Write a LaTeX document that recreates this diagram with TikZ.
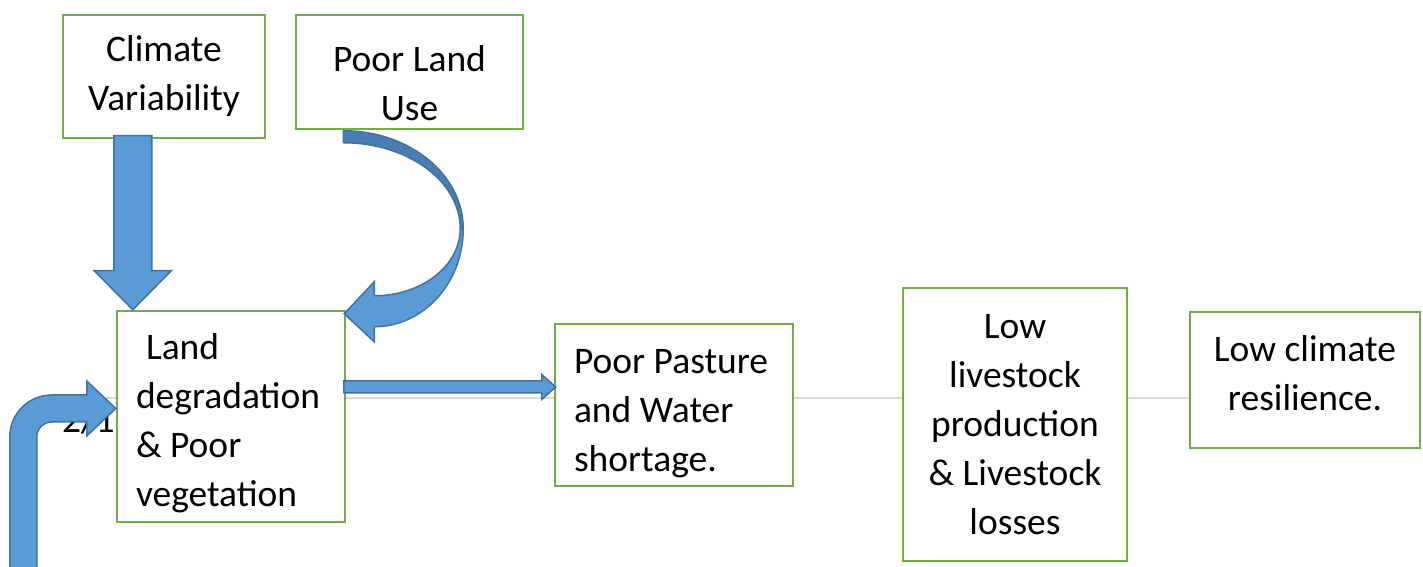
\documentclass[tikz,border=0pt]{standalone}
\usepackage{fontspec}
\setmainfont{Carlito}
\usetikzlibrary{calc}

\definecolor{boxgreen}{HTML}{70AD47}
\definecolor{arrowblue}{HTML}{5B9BD5}
\definecolor{arrowdark}{HTML}{4A7EB3}
\definecolor{arrowedge}{HTML}{41719C}
\definecolor{linkgray}{HTML}{D9D9D9}

\begin{document}
\begin{tikzpicture}[
                    x=1pt, y=1pt,
                    box/.style={rectangle, draw=boxgreen, line width=2.5pt, fill=white, align=flush center, inner sep=0pt, font=\fontsize{37.5}{49}\selectfont},
                    leftbox/.style={box, align=flush left, inner xsep=19pt},
                    dropby/.style={execute at begin node={\rule{0pt}{#1}}},
                    raiseby/.style={execute at end node={\rule[-#1]{0pt}{0pt}}},
                    blockarrow/.style={fill=arrowblue, draw=arrowedge, line width=1.5pt, line join=miter},
                    link/.style={draw=linkgray, line width=1.8pt}
                ]
                    \useasboundingbox (0,0) rectangle (1423,567);

                    \node[box, text width=202pt, minimum height=123pt] (clim) at (164,490.5) {Climate\\Variability};
                    \node[box, dropby=48pt, text width=227pt, minimum height=114pt] (pland) at (409.5,495) {Poor Land\\Use};
                    \node[leftbox, dropby=40pt, text width=190pt, minimum height=211pt] (land) at (231,150.5) {\hspace*{10pt}Land\\degradation\\\& Poor\\vegetation};
                    \node[leftbox, dropby=42pt, text width=200pt, minimum height=162pt] (pasture) at (674,162) {Poor Pasture\\and Water\\shortage.};
                    \node[box, text width=224pt, minimum height=273pt] (lowprod) at (1015,142.5) {Low\\livestock\\production\\\& Livestock\\losses};
                    \node[box, raiseby=14pt, text width=230pt, minimum height=136pt] (resil) at (1305,187) {Low climate\\resilience.};

                    \node[font=\fontsize{37.5}{49}\selectfont, anchor=base west, inner sep=0pt] (hidden) at (62,134) {2/1};

                    % thin grey connectors
                    \coordinate (lane) at (0,169);
                    \coordinate (lstart) at (45,169);
                    \draw[link] (lstart) -- (land.west |- lane);
                    \draw[link] (land.east |- lane) -- (pasture.west |- lane);
                    \draw[link] (pasture.east |- lane) -- (lowprod.west |- lane);
                    \draw[link] (lowprod.east |- lane) -- (resil.west |- lane);

                    % block arrows
                    \coordinate (dtip) at ($(land.north west)+(17,0)$);
                    \draw[blockarrow, shift={(dtip)}] (-19,174) -- (19,174) -- (19,39) -- (38.5,39) -- (0,0) -- (-38.5,39) -- (-19,39) -- cycle;

                    \coordinate (htip) at ($(pasture.west)+(2,18)$);
                    \draw[blockarrow, shift={(htip)}] (-212,6) -- (-14,6) -- (-14,12.5) -- (0,0) -- (-14,-12.5) -- (-14,-6) -- (-212,-6) -- cycle;

                    \coordinate (ctip) at ($(land.north east)+(-2,-4)$);
                    \draw[blockarrow, fill=arrowdark, shift={(ctip)}] (-1,183) arc[start angle=90, end angle=0, x radius=120, y radius=98] -- (116,85) arc[start angle=0, end angle=90, x radius=117, y radius=86] -- cycle;
                    \draw[blockarrow, shift={(ctip)}] (119,85) arc[start angle=0, end angle=-90, x radius=89, y radius=98] -- (30,-28) -- (0,0) -- (30,32) -- (30,18) arc[start angle=-90, end angle=0, x radius=86, y radius=67] -- cycle;

                    \coordinate (btip) at ($(land.west)+(0,8)$);
                    \draw[blockarrow, shift={(btip)}] (-106,-170) -- (-106,-28.5) arc[start angle=180, end angle=90, radius=42] -- (-29,13.5) -- (-29,27.5) -- (0,0) -- (-29,-27.5) -- (-29,-13.5) -- (-64,-13.5) arc[start angle=90, end angle=180, radius=15] -- (-79,-170) -- cycle;

                \end{tikzpicture}
\end{document}
